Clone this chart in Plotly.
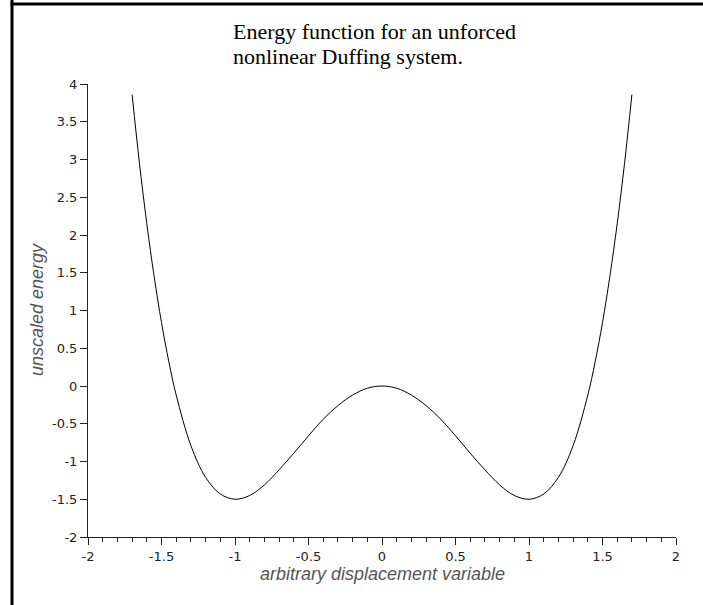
import plotly.graph_objects as go

# values
x_vals = [-1.70, -1.65, -1.60, -1.55, -1.50, -1.45, -1.40, -1.30, -1.20, -1.10, -1.00,
          -0.90, -0.80, -0.70, -0.60, -0.50, -0.40, -0.30, -0.20, -0.10, 0.00,
          0.10, 0.20, 0.30, 0.40, 0.50, 0.60, 0.70, 0.80, 0.90, 1.00,
          1.10, 1.20, 1.30, 1.40, 1.45, 1.50, 1.55, 1.60, 1.65, 1.70]
energy = [3.86, 2.95, 2.15, 1.45, 0.84, 0.32, -0.12, -0.79, -1.21, -1.43, -1.50,
          -1.45, -1.31, -1.11, -0.89, -0.66, -0.44, -0.26, -0.12, -0.03, 0.00,
          -0.03, -0.12, -0.26, -0.44, -0.66, -0.89, -1.11, -1.31, -1.45, -1.50,
          -1.43, -1.21, -0.79, -0.12, 0.32, 0.84, 1.45, 2.15, 2.95, 3.86]

x_ticks = [-2, -1.5, -1, -0.5, 0, 0.5, 1, 1.5, 2]
x_tick_text = ["-2", "-1.5", "-1", "-0.5", "0", "0.5", "1", "1.5", "2"]
y_ticks = [-2, -1.5, -1, -0.5, 0, 0.5, 1, 1.5, 2, 2.5, 3, 3.5, 4]
y_tick_text = ["-2", "-1.5", "-1", "-0.5", "0", "0.5", "1", "1.5", "2", "2.5", "3", "3.5", "4"]

title_lines = ["Energy function for an unforced", "nonlinear Duffing system."]
x_title = "arbitrary displacement variable"
y_title = "unscaled energy"

W, H = 703, 605
L, R, T, B = 88, 27, 84, 68
pw, ph = W - L - R, H - T - B

def px(xp):
    return (xp - L) / pw

def py(yp):
    return (H - B - yp) / ph

fig = go.Figure()
fig.add_trace(go.Scatter(x=x_vals, y=energy, mode="lines",
                         line=dict(color="black", width=1, shape="spline"),
                         showlegend=False, hoverinfo="skip"))

tickfont = dict(family="DejaVu Sans, Verdana", size=13, color="#222222")
fig.update_xaxes(range=[-2, 2], tickmode="array", tickvals=x_ticks, ticktext=x_tick_text,
                 ticks="outside", ticklen=7, tickwidth=1, tickcolor="#222222",
                 showline=True, linecolor="#222222", linewidth=1, showgrid=False,
                 zeroline=False, tickfont=tickfont, fixedrange=True,
                 minor=dict(dtick=0.1, tick0=0, ticks="outside", ticklen=4,
                            tickcolor="#222222", showgrid=False))
fig.update_yaxes(range=[-2, 4], tickmode="array", tickvals=y_ticks, ticktext=y_tick_text,
                 ticks="outside", ticklen=7, tickwidth=1, tickcolor="#222222",
                 showline=True, linecolor="#222222", linewidth=1, showgrid=False,
                 zeroline=False, tickfont=tickfont, fixedrange=True)

title_font = dict(family="Liberation Serif, Times New Roman", size=22, color="black")
annotations = [
    dict(text=title_lines[0], xref="paper", yref="paper",
         x=px(232), y=py(18), xanchor="left", yanchor="top", showarrow=False,
         borderpad=0, font=title_font),
    dict(text=title_lines[1], xref="paper", yref="paper",
         x=px(232), y=py(43), xanchor="left", yanchor="top", showarrow=False,
         borderpad=0, font=title_font),
    dict(text="<i>" + x_title + "</i>", xref="paper", yref="paper",
         x=px(382), y=py(574), xanchor="center", yanchor="middle", showarrow=False,
         font=dict(family="Liberation Sans, Arial", size=18, color="#555555")),
    dict(text="<i>" + y_title + "</i>", xref="paper", yref="paper",
         x=px(37), y=py(310), xanchor="center", yanchor="middle", showarrow=False,
         textangle=-90,
         font=dict(family="Liberation Sans, Arial", size=18, color="#555555")),
]

shapes = [
    dict(type="line", xref="paper", yref="paper", x0=px(12), x1=px(12),
         y0=py(0), y1=py(H), line=dict(color="black", width=3)),
    dict(type="line", xref="paper", yref="paper", x0=px(10.5), x1=px(W),
         y0=py(4), y1=py(4), line=dict(color="black", width=3)),
]

fig.update_layout(width=W, height=H, margin=dict(l=L, r=R, t=T, b=B),
                  paper_bgcolor="white", plot_bgcolor="white",
                  annotations=annotations, shapes=shapes, showlegend=False)

fig.write_html("out.html")
